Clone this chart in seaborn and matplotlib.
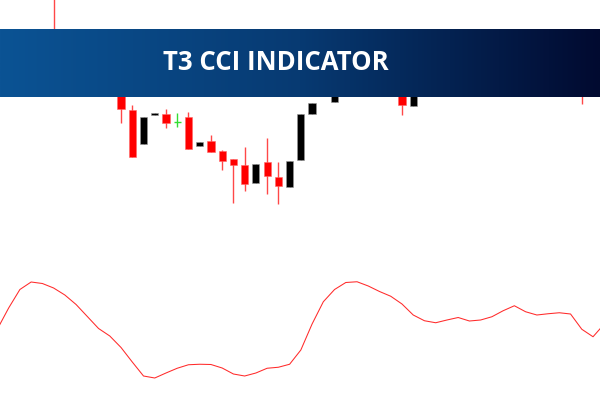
import numpy as np
import pandas as pd
import seaborn as sns
import matplotlib.pyplot as plt
from matplotlib.colors import LinearSegmentedColormap

# %%
# candles (bar index, open, high, low, close)
bar_idx = [-6, 0, 1, 2, 3, 4, 5, 6, 7, 8, 9, 10, 11, 12, 13, 14, 15, 16, 17, 19, 25, 26, 41]
opens = [1.1160, 1.1112, 1.1090, 1.1056, 1.1085, 1.1086, 1.1078, 1.1083, 1.1054, 1.1059, 1.1049, 1.1041,
         1.1035, 1.1017, 1.1038, 1.1023, 1.1013, 1.1040, 1.1086, 1.1098, 1.1115, 1.1094, 1.1130]
highs = [1.1210, 1.1115, 1.1095, 1.1083, 1.1087, 1.1091, 1.1087, 1.1088, 1.1058, 1.1065, 1.1050, 1.1041,
         1.1053, 1.1036, 1.1062, 1.1038, 1.1039, 1.1086, 1.1097, 1.1120, 1.1120, 1.1120, 1.1140]
lows = [1.1140, 1.1077, 1.1043, 1.1056, 1.1085, 1.1072, 1.1073, 1.1051, 1.1054, 1.1048, 1.1030, 1.0997,
        1.1009, 1.1017, 1.1006, 1.0996, 1.1013, 1.1040, 1.1086, 1.1098, 1.1085, 1.1094, 1.1096]
closes = [1.1145, 1.1091, 1.1043, 1.1083, 1.1087, 1.1077, 1.1078, 1.1051, 1.1058, 1.1048, 1.1039, 1.1035,
          1.1016, 1.1036, 1.1024, 1.1014, 1.1039, 1.1086, 1.1097, 1.1120, 1.1095, 1.1120, 1.1115]

# T3 CCI values per bar
cci_idx = list(range(-11, 44))
cci_vals = [-16, 68, 142, 172, 166, 148, 120, 82, 34, -14, -44,
            -90, -148, -204, -212, -192, -173, -159, -157, -158, -172, -196,
            -204, -192, -173, -169, -157, -100, 4, 93, 142, 170, 173,
            156, 134, 115, 84, 40, 17, 9, 20, 30, 16, 20,
            33, 57, 77, 53, 40, 45, 49, 44, -17, -47, 4]

title = "T3 CCI INDICATOR"

# %%
sns.set_theme(style="white")
plt.rcParams["font.family"] = ["Open Sans", "DejaVu Sans"]

fig = plt.figure(figsize=(6, 4), dpi=100)
fig.patch.set_facecolor("white")

xlim = (-10.77, 42.62)

# price panel
ax = fig.add_axes([0, 0, 1, 1])
ax.set_xlim(*xlim)
ax.set_ylim(1.0800, 1.1200)
ax.axis("off")

df = pd.DataFrame({"i": bar_idx, "o": opens, "h": highs, "l": lows, "c": closes})
for _, r in df.iterrows():
    if r.o == r.c:
        col, wick = "#33dd33", "#33dd33"
    elif r.c < r.o:
        col, wick = "#ff0000", "#ff4848"
    else:
        col, wick = "#000000", "#555555"
    ax.vlines(r.i, r.l, r.h, color=wick, lw=1, zorder=1)
    if r.o == r.c:
        ax.hlines(r.o, r.i - 0.33, r.i + 0.33, color=col, lw=1, zorder=2)
    else:
        ax.bar(r.i, abs(r.c - r.o), bottom=min(r.o, r.c), width=0.64,
               color=col, edgecolor="#999999" if col == "#000000" else "#ff6666",
               linewidth=0.4, zorder=2)

# indicator panel
ax2 = fig.add_axes([0, 0, 1, 0.375])
ax2.set_xlim(*xlim)
ax2.set_ylim(-300, 300)
ax2.patch.set_alpha(0)
sns.lineplot(x=cci_idx, y=cci_vals, ax=ax2, color="#ff2a2a", lw=0.75)
ax2.axis("off")

# title banner with gradient
bax = fig.add_axes([0, 0.7575, 1, 0.17])
cmap = LinearSegmentedColormap.from_list("banner", ["#0b5394", "#073a72", "#010a30"])
bax.imshow(np.linspace(0, 1, 256).reshape(1, -1), cmap=cmap, aspect="auto",
           extent=[0, 1, 0, 1])
bax.set_xlim(0, 1)
bax.set_ylim(0, 1)
bax.axis("off")
bax.text(0.459, 0.5, title, color="white", fontsize=18.5, fontweight="bold",
         ha="center", va="center")

plt.savefig("out.png", dpi=100)
